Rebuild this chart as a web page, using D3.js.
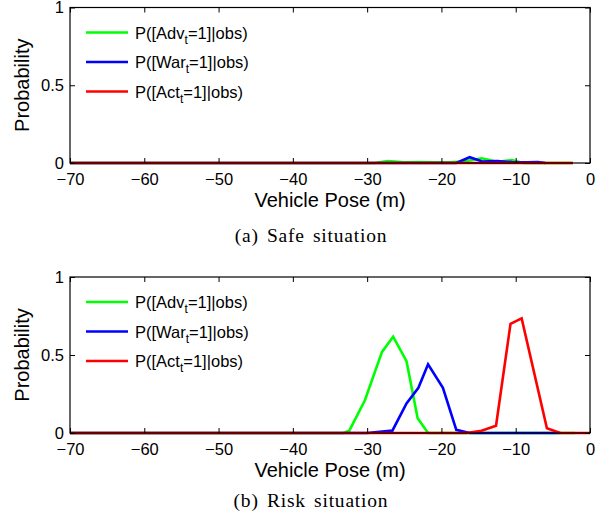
<!DOCTYPE html>
<html>
<head>
<meta charset="utf-8">
<script src="https://cdn.jsdelivr.net/npm/d3@7"></script>
<style>
  body { margin: 0; background: #fff; }
  svg text { font-family: "Liberation Sans", Arial, sans-serif; fill: #000; }
</style>
</head>
<body>
<div id="chart"></div>
<script>
const xTicks = [-70, -60, -50, -40, -30, -20, -10, 0];
const yTicks = [0, 0.5, 1];

const seriesNames = ["Adv", "War", "Act"];
const seriesColors = ["#00ff00", "#0000ff", "#ff0000"];

// (a) safe situation
const safeAdvX = [-70, -29, -27.2, -25, -23, -21, -19, -17, -14.6, -12.5, -10.5, -9, -2.3];
const safeAdvY = [0, 0, 0.012, 0.004, 0.006, 0.004, 0.004, 0.01, 0.03, 0.008, 0.019, 0, 0];
const safeWarX = [-70, -18, -16.2, -14.5, -12.5, -10.5, -8.5, -7, -6];
const safeWarY = [0, 0, 0.037, 0.01, 0.012, 0.006, 0.004, 0.006, 0];
const safeActX = [-70, -2.3];
const safeActY = [0, 0];

// (b) risk situation
const riskAdvX = [-70, -33.2, -32.4, -30.3, -28.0, -26.5, -24.7, -23.2, -21.8, -2];
const riskAdvY = [0, 0, 0.015, 0.21, 0.52, 0.617, 0.46, 0.094, 0, 0];
const riskWarX = [-70, -30, -26.6, -24.7, -23.1, -21.8, -19.8, -18.0, -16.2, -4];
const riskWarY = [0, 0, 0.015, 0.19, 0.29, 0.44, 0.29, 0.02, 0, 0];
const riskActX = [-70, -16.6, -14.6, -12.65, -10.7, -9.2, -5.8, -4.0, 0];
const riskActY = [0, 0, 0.015, 0.047, 0.70, 0.735, 0.03, 0, 0];

const width = 606, height = 516;
const svg = d3.select("#chart").append("svg")
  .attr("width", width).attr("height", height);

const fmt = d => d < 0 ? "\u2212" + Math.abs(d) : String(d);

function drawPanel(top, bottom, lines, caption, captionY) {
  const x = d3.scaleLinear().domain([-70, 0]).range([70, 590]);
  const y = d3.scaleLinear().domain([0, 1]).range([bottom, top]);
  const g = svg.append("g");

  // lines
  const line = d3.line().x(d => x(d[0])).y(d => y(d[1]));
  lines.forEach((s, i) => {
    g.append("path")
      .datum(d3.zip(s[0], s[1]))
      .attr("d", line)
      .attr("fill", "none")
      .attr("stroke", seriesColors[i])
      .attr("stroke-width", 2.6)
      .attr("stroke-linejoin", "miter");
  });

  // axes (inward ticks, boxed)
  g.append("g").attr("transform", `translate(0,${bottom})`)
    .call(d3.axisBottom(x).tickValues(xTicks).tickSize(-5).tickPadding(10).tickFormat(fmt))
    .call(a => a.select(".domain").remove());
  g.append("g").attr("transform", `translate(0,${top})`)
    .call(d3.axisTop(x).tickValues(xTicks).tickSize(-5).tickFormat(""))
    .call(a => a.select(".domain").remove());
  g.append("g").attr("transform", `translate(70,0)`)
    .call(d3.axisLeft(y).tickValues(yTicks).tickSize(-5).tickPadding(6).tickFormat(d => String(d)))
    .call(a => a.select(".domain").remove());
  g.append("g").attr("transform", `translate(590,0)`)
    .call(d3.axisRight(y).tickValues(yTicks).tickSize(-5).tickFormat(""))
    .call(a => a.select(".domain").remove());
  g.selectAll(".tick text").attr("font-size", 16.5).attr("font-family", "Liberation Sans, Arial, sans-serif");
  g.selectAll(".tick line").attr("stroke", "#000");

  g.append("rect")
    .attr("x", 70).attr("y", top).attr("width", 520).attr("height", bottom - top)
    .attr("fill", "none").attr("stroke", "#000").attr("stroke-width", 1.2);

  // labels
  g.append("text")
    .attr("x", 330).attr("y", bottom + 44)
    .attr("text-anchor", "middle").attr("font-size", 20)
    .text("Vehicle Pose (m)");
  g.append("text")
    .attr("transform", `translate(28.5,${(top + bottom) / 2}) rotate(-90)`)
    .attr("text-anchor", "middle").attr("font-size", 20)
    .text("Probability");

  // legend
  seriesNames.forEach((n, i) => {
    const ly = top + 25 + i * 29.5;
    g.append("line")
      .attr("x1", 86).attr("x2", 128).attr("y1", ly).attr("y2", ly)
      .attr("stroke", seriesColors[i]).attr("stroke-width", 2.6);
    const t = g.append("text").attr("x", 135).attr("y", ly + 6).attr("font-size", 16.5);
    t.append("tspan").text("P([" + n);
    t.append("tspan").attr("dy", 5).attr("font-size", 12).text("t");
    t.append("tspan").attr("dy", -5).text("=1]|obs)");
  });

  // caption
  svg.append("text")
    .attr("x", 311).attr("y", captionY)
    .attr("text-anchor", "middle")
    .style("font-family", "'Liberation Serif', 'Times New Roman', serif")
    .style("letter-spacing", "0.8px")
    .style("word-spacing", "2.5px")
    .attr("font-size", 19.5)
    .text(caption);
}

drawPanel(7.5, 163, [[safeAdvX, safeAdvY], [safeWarX, safeWarY], [safeActX, safeActY]], "(a) Safe situation", 242);
drawPanel(277, 433, [[riskAdvX, riskAdvY], [riskWarX, riskWarY], [riskActX, riskActY]], "(b) Risk situation", 507);
</script>
</body>
</html>
